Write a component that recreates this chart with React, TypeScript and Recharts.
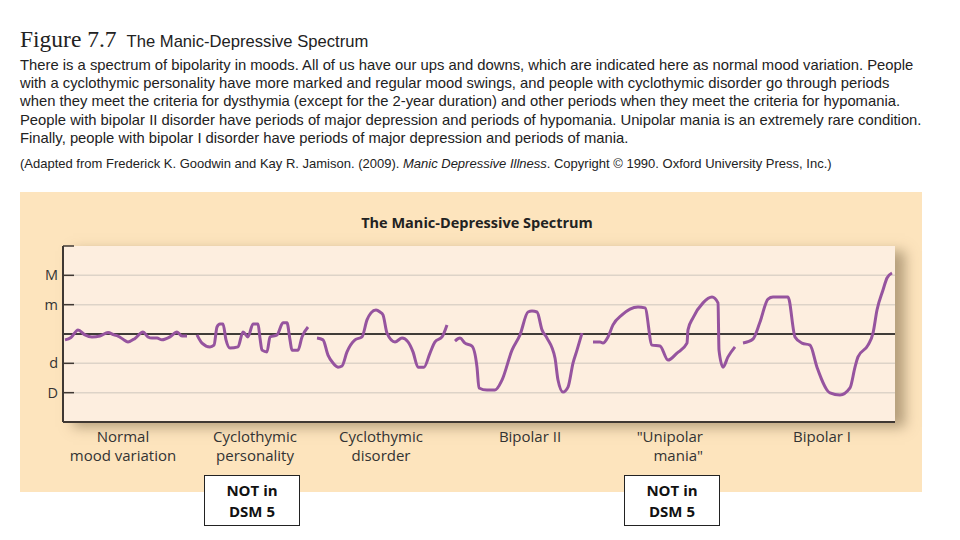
import React from "react";
import { LineChart, Line, XAxis, YAxis, ReferenceLine } from "recharts";

// time runs left to right across the strip; mood is relative to the baseline (0)
const normalT = [2, 8, 15, 22, 29, 37, 45, 51, 55, 60, 65, 72, 80, 85, 89, 94, 99, 107, 114, 119, 124];
const normalMood = [-0.2, -0.12, 0.14, -0.03, -0.1, -0.07, 0.05, -0.03, -0.07, -0.18, -0.27, -0.15, 0.07, -0.1, -0.14, -0.14, -0.2, -0.1, 0.07, -0.07, -0.07];

const cycloPersT = [134, 139, 147, 151, 154, 157, 160, 163, 167, 175, 180, 185, 190, 195, 197, 199, 204, 207, 214, 220, 224, 227, 229, 235, 239, 245];
const cycloPersMood = [-0.03, -0.31, -0.44, -0.38, 0.24, 0.34, 0.34, -0.2, -0.48, -0.44, 0.07, -0.1, 0.34, 0.34, -0.14, -0.55, -0.61, -0.1, -0.03, 0.38, 0.38, -0.2, -0.55, -0.55, -0.1, 0.24];

const cycloDisT = [254, 260, 265, 270, 275, 279, 284, 292, 299, 304, 308, 313, 317, 320, 324, 332, 339, 345, 350, 355, 361, 367, 372, 379, 384];
const cycloDisMood = [-0.14, -0.2, -0.72, -0.99, -1.13, -1.09, -0.61, -0.2, -0.1, 0.48, 0.72, 0.82, 0.75, 0.65, 0.03, -0.27, -0.14, -0.27, -0.61, -1.13, -1.13, -0.65, -0.27, -0.1, 0.31];

const bipolar2T = [392, 397, 402, 409, 414, 416, 424, 432, 439, 449, 457, 465, 469, 474, 479, 484, 492, 495, 500, 505, 510, 514, 519];
const bipolar2Mood = [-0.24, -0.14, -0.31, -0.41, -1.13, -1.84, -1.91, -1.91, -1.57, -0.55, -0.03, 0.75, 0.78, 0.75, 0.14, -0.14, -0.82, -1.57, -1.98, -1.81, -0.99, -0.55, 0.03];

const unipolarT = [530, 537, 540, 545, 550, 559, 567, 575, 582, 589, 597, 605, 614, 624, 625, 630, 640, 649, 655, 656, 660, 665, 672];
const unipolarMood = [-0.27, -0.27, -0.31, -0.1, 0.31, 0.65, 0.85, 0.92, 0.89, -0.38, -0.41, -0.89, -0.65, -0.31, 0.14, 0.55, 1.06, 1.26, 1.06, -0.55, -1.13, -0.78, -0.44];

const bipolar1T = [680, 690, 697, 705, 710, 725, 732, 739, 747, 754, 767, 777, 787, 792, 795, 805, 810, 814, 820, 824, 829];
const bipolar1Mood = [-0.31, -0.17, 0.41, 1.19, 1.26, 1.26, -0.1, -0.31, -0.38, -1.13, -2.01, -2.08, -1.84, -1.13, -0.78, -0.38, 0.03, 0.82, 1.5, 1.91, 2.08];

const moodTicks = [3, 2, 1, -1, -2];
const moodLabels = ["", "M", "m", "d", "D"];
const gridValues = [2, 1, -1, -2];

// label anchor positions on the time axis
const categoryTicks = [60, 192, 318, 467, 640, 759];
const categoryAnchors = ["middle", "middle", "middle", "middle", "end", "middle"];
const categoryLines = [
  ["Normal", "mood variation"],
  ["Cyclothymic", "personality"],
  ["Cyclothymic", "disorder"],
  ["Bipolar II"],
  ['"Unipolar', 'mania"'],
  ["Bipolar I"],
];

const bodyLines = [
  "There is a spectrum of bipolarity in moods. All of us have our ups and downs, which are indicated here as normal mood variation. People",
  "with a cyclothymic personality have more marked and regular mood swings, and people with cyclothymic disorder go through periods",
  "when they meet the criteria for dysthymia (except for the 2-year duration) and other periods when they meet the criteria for hypomania.",
  "People with bipolar II disorder have periods of major depression and periods of hypomania. Unipolar mania is an extremely rare condition.",
  "Finally, people with bipolar I disorder have periods of major depression and periods of mania.",
];

const toPoints = (t: number[], mood: number[]) => t.map((v, i) => ({ t: v, mood: mood[i] }));

const segments = [
  toPoints(normalT, normalMood),
  toPoints(cycloPersT, cycloPersMood),
  toPoints(cycloDisT, cycloDisMood),
  toPoints(bipolar2T, bipolar2Mood),
  toPoints(unipolarT, unipolarMood),
  toPoints(bipolar1T, bipolar1Mood),
];

const LABEL_FONT = '"Open Sans", "Noto Sans", sans-serif';
const BODY_FONT = '"Liberation Sans", Arial, sans-serif';
const PURPLE = "#96549f";
const AXIS = "#3f3833";

function MoodTick(props: any) {
  const { x, y, payload } = props;
  const idx = moodTicks.indexOf(payload.value);
  return (
    <g>
      <line x1={x} x2={x + 11} y1={y} y2={y} stroke={AXIS} strokeWidth={1.5} />
      <text x={x - 5} y={y} dy={5} textAnchor="end" fontSize={14.5} fontFamily={LABEL_FONT} fill="#333">
        {moodLabels[idx]}
      </text>
    </g>
  );
}

function CategoryTick(props: any) {
  const { x, y, payload } = props;
  const idx = categoryTicks.indexOf(payload.value);
  const lines = categoryLines[idx] || [];
  return (
    <text x={x} y={y} textAnchor={categoryAnchors[idx] as any} fontSize={15} fontFamily={LABEL_FONT} fill="#333">
      {lines.map((l, i) => (
        <tspan key={i} x={x} dy={i === 0 ? 20 : 19}>
          {l}
        </tspan>
      ))}
    </text>
  );
}

function NotInDsm({ left }: { left: number }) {
  return (
    <div
      style={{
        position: "absolute",
        left,
        top: 475,
        width: 96,
        height: 51,
        background: "#fff",
        border: "1px solid #222",
        fontFamily: LABEL_FONT,
        fontWeight: 700,
        fontSize: 15,
        lineHeight: "21px",
        color: "#111",
        textAlign: "center",
        paddingTop: 4,
        boxSizing: "border-box",
      }}
    >
      NOT in
      <br />
      DSM 5
    </div>
  );
}

export default function App() {
  return (
    <div style={{ position: "absolute", left: 0, top: 0, width: 960, height: 540, background: "#fff", overflow: "hidden" }}>
      <div style={{ position: "absolute", left: 20, top: 26, whiteSpace: "nowrap" }}>
        <span style={{ fontFamily: '"Liberation Serif", serif', fontSize: 23.5, color: "#222" }}>Figure 7.7</span>
        <span style={{ fontFamily: BODY_FONT, fontSize: 16.6, color: "#222", marginLeft: 10 }}>
          The Manic-Depressive Spectrum
        </span>
      </div>
      <div
        style={{
          position: "absolute",
          left: 20,
          top: 56,
          fontFamily: BODY_FONT,
          fontSize: 14.8,
          lineHeight: "18.2px",
          color: "#222",
          whiteSpace: "nowrap",
        }}
      >
        {bodyLines.map((l, i) => (
          <div key={i}>{l}</div>
        ))}
      </div>
      <div
        style={{
          position: "absolute",
          left: 20,
          top: 156,
          fontFamily: BODY_FONT,
          fontSize: 13,
          color: "#222",
          whiteSpace: "nowrap",
        }}
      >
        (Adapted from Frederick K. Goodwin and Kay R. Jamison. (2009). <i>Manic Depressive Illness</i>. Copyright © 1990. Oxford
        University Press, Inc.)
      </div>

      {/* chart panel */}
      <div style={{ position: "absolute", left: 20, top: 192, width: 902, height: 300, background: "#fde4bd" }} />
      <div
        style={{
          position: "absolute",
          left: 63,
          top: 246,
          width: 832,
          height: 176,
          background: "#fdeedf",
          boxShadow: "10px 5px 12px rgba(110, 90, 60, 0.5)",
        }}
      />
      <div
        style={{
          position: "absolute",
          left: 0,
          top: 213,
          width: 954,
          textAlign: "center",
          fontFamily: LABEL_FONT,
          fontWeight: 700,
          fontSize: 14.5,
          color: "#222",
        }}
      >
        The Manic-Depressive Spectrum
      </div>
      <div style={{ position: "absolute", left: 20, top: 192 }}>
        <LineChart width={902} height={300} margin={{ top: 54, right: 27, bottom: 0, left: 0 }}>
          <XAxis
            type="number"
            dataKey="t"
            domain={[0, 832]}
            ticks={categoryTicks}
            interval={0}
            allowDataOverflow
            tickLine={false}
            tickSize={0}
            tickMargin={0}
            axisLine={{ stroke: AXIS, strokeWidth: 2 }}
            tick={<CategoryTick />}
            height={70}
          />
          <YAxis
            type="number"
            domain={[-3, 3]}
            ticks={moodTicks}
            interval={0}
            tickLine={false}
            tickSize={0}
            tickMargin={0}
            axisLine={{ stroke: AXIS, strokeWidth: 2 }}
            tick={<MoodTick />}
            width={43}
          />
          {gridValues.map((v) => (
            <ReferenceLine key={v} y={v} stroke="#ddd3c8" strokeWidth={1.5} />
          ))}
          <ReferenceLine y={0} stroke="#000" strokeWidth={1.3} />
          {segments.map((seg, i) => (
            <Line
              key={i}
              data={seg}
              dataKey="mood"
              type="monotone"
              stroke={PURPLE}
              strokeWidth={3}
              dot={false}
              isAnimationActive={false}
            />
          ))}
        </LineChart>
      </div>
      <NotInDsm left={204} />
      <NotInDsm left={624} />
    </div>
  );
}
